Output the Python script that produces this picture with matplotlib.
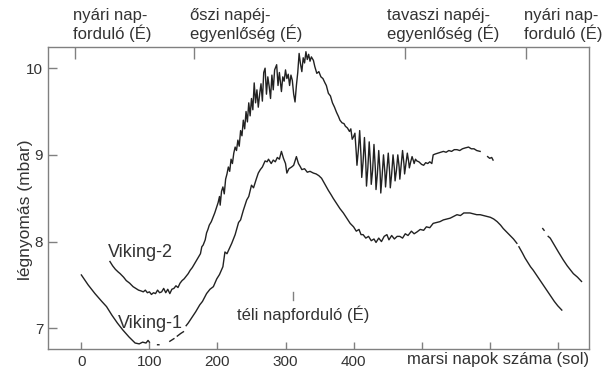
import numpy as np
import matplotlib.pyplot as plt

plt.rcParams['font.family'] = ['Liberation Sans', 'DejaVu Sans']
plt.rcParams['figure.dpi'] = 100

# ======== 数据========
# Viking-1
v1_sol = [0, 10, 20, 30, 37, 45, 53, 61, 70, 79, 85, 90, 95, 98, 100, np.nan,
          112, 114, np.nan,
          130, 136, np.nan, 141, 146, 150, np.nan, 154, 157, 162, 168, 174, 178, 184, 189,
          194, 199, 203, 208, 211, 214, 218, 221, 226, 231, 234, 238, 243, 246, 250,
          253, 257, 260, 263, 266, 270, 273, 275, 279, 282, 285, 288, 291, 294, 297,
          300, 302, 305, 309, 312, 316, 319, 322, 324, 328, 332, 336, 341, 345, 349,
          353, 358, 363, 367, 370, 375, 380, 385, 390, 395, 400, 404, 408, 411, 414,
          418, 422, 426, 430, 433, 437, 441, 445, 449, 452, 456, 460, 464, 468, 472,
          476, 480, 485, 489, 493, 498, 503, 507, 512, 517, 522, 527, 532, 537, 542,
          547, 552, 557, 562, 566, 571, 576, 581, 586, 591, 596, 601, 606, 611, 616,
          620, 625, 630, 635, 640, np.nan, 643, 648, 652, 656, 660, 664, 670, 676, 682,
          689, 695, 700, 706]
v1_p = [7.615, 7.50, 7.40, 7.31, 7.25, 7.15, 7.06, 6.98, 6.90, 6.83, 6.82, 6.84, 6.83, 6.86, 6.84, np.nan,
        6.81, 6.81, np.nan,
        6.85, 6.88, np.nan, 6.91, 6.94, 6.96, np.nan, 7.03, 7.06, 7.12, 7.19, 7.27, 7.31, 7.40, 7.45,
        7.48, 7.57, 7.62, 7.71, 7.88, 7.86, 7.93, 7.98, 8.08, 8.22, 8.25, 8.36, 8.48, 8.52, 8.65,
        8.62, 8.72, 8.79, 8.83, 8.86, 8.93, 8.92, 8.95, 8.90, 8.94, 8.92, 8.97, 8.95, 9.04, 8.96,
        8.90, 8.79, 8.84, 8.86, 8.88, 8.98, 8.90, 8.86, 8.83, 8.84, 8.80, 8.81, 8.79, 8.78, 8.76,
        8.73, 8.66, 8.59, 8.54, 8.50, 8.44, 8.38, 8.33, 8.27, 8.21, 8.17, 8.12, 8.14, 8.08, 8.08,
        8.04, 8.06, 8.01, 8.03, 7.99, 8.04, 8.00, 8.06, 8.08, 8.02, 8.07, 8.03, 8.06, 8.06, 8.04,
        8.09, 8.07, 8.12, 8.09, 8.11, 8.14, 8.13, 8.17, 8.16, 8.21, 8.22, 8.23, 8.25, 8.26, 8.27,
        8.29, 8.31, 8.30, 8.33, 8.33, 8.33, 8.32, 8.31, 8.31, 8.30, 8.29, 8.28, 8.26, 8.23, 8.19,
        8.15, 8.11, 8.07, 8.03, 7.98, np.nan, 7.94, 7.87, 7.81, 7.76, 7.71, 7.67, 7.60, 7.53, 7.46,
        7.38, 7.31, 7.26, 7.21]

# Viking-2
v2_sol = [42, 46, 50, 54, 57, 62, 66, 71, 76, 80, 84, 88, 91, 94, 97, 100, 103, 106, 109,
          112, 115, 118, 121, 124, 127, 130, 133, 136, 139, 142, 145, 148, 151, 154, 157,
          160, 163, 166, 169, 172, 175, 177, 179, 182, 184, 186, 188, 191, 194, 196, 199,
          201, 203, 204, 206, 208, 210, 212, 214, 216, 218, 220, 222, 224, 226, 228, 230,
          232, 234, 236, 238, 240, 242, 244, 246, 248, 250, 252, 254, 256, 258, 260, 262,
          264, 266, 268, 270, 272, 274, 276, 278, 280, 282, 284, 287, 289, 291, 294, 296,
          298, 300, 302, 304, 306, 308, 310, 312, 314, 316, 318, 320, 322, 324, 326, 328,
          330, 332, 334, 336, 338, 341, 343, 346, 349, 352, 355, 358, 360, 363, 366, 369,
          372, 375, 378, 380, 383, 386, 388, 391, 394, 396, 398, 400,
          402, 404, 405, 407, 409, 411, 412, 414, 416, 418, 419, 421, 423, 425, 426, 428,
          430, 432, 433, 435, 437, 439, 440, 442, 444, 446, 447, 449, 451, 453, 454, 456,
          458, 460, 461, 463, 465, 467, 468, 470, 472, 474, 475, 477, 479, 481, 482, 484,
          486, 488, 489, 491, 493, 496, 500,
          503, 506, 509, 512, 515, 517, 520, 524, 528, 532, 536, 540, 544, 548, 552, 556,
          560, 564, 569, 573, 577, 581, 586, np.nan, 597, 600, 603, 605, np.nan,
          678, 680, np.nan, 686, 689, 695, 701, 708, 714, 719, 723, 729, 735]
v2_p = [7.77, 7.72, 7.68, 7.65, 7.63, 7.59, 7.55, 7.52, 7.48, 7.46, 7.44, 7.43, 7.42, 7.44, 7.41, 7.42, 7.39, 7.41, 7.40,
        7.44, 7.41, 7.42, 7.46, 7.41, 7.45, 7.40, 7.45, 7.46, 7.49, 7.47, 7.52, 7.55, 7.57, 7.60, 7.63,
        7.67, 7.70, 7.74, 7.78, 7.82, 7.86, 7.94, 7.96, 8.02, 8.10, 8.14, 8.19, 8.23, 8.29, 8.33, 8.40,
        8.45, 8.52, 8.42, 8.58, 8.63, 8.55, 8.72, 8.78, 8.86, 8.81, 8.95, 8.90, 9.02, 9.09, 9.05, 9.17,
        9.10, 9.28, 9.22, 9.40, 9.30, 9.50, 9.38, 9.60, 9.45, 9.65, 9.52, 9.83, 9.60, 9.75, 9.55, 9.70,
        9.82, 9.62, 9.95, 10.00, 9.70, 9.90, 9.79, 9.65, 9.92, 9.75, 9.98, 10.04, 9.80, 9.95, 9.73, 9.90,
        9.85, 9.98, 9.88, 9.93, 9.80, 9.92, 9.86, 9.70, 9.61, 9.80, 9.95, 10.17, 10.05, 9.96, 10.12, 10.06,
        10.19, 10.10, 10.16, 10.08, 10.13, 10.09, 10.02, 9.94, 9.96, 9.90, 9.88, 9.83, 9.80, 9.71, 9.68, 9.60,
        9.55, 9.49, 9.44, 9.40, 9.37, 9.36, 9.33, 9.31, 9.27, 9.30, 9.18, 9.21,
        9.25, 9.02, 8.88, 9.05, 9.28, 8.98, 8.74, 8.92, 9.20, 8.90, 8.64, 8.85, 9.15, 8.88, 8.66, 8.82,
        9.12, 8.84, 8.60, 8.78, 9.05, 8.80, 8.56, 8.76, 9.00, 8.80, 8.63, 8.82, 9.02, 8.80, 8.62, 8.78,
        9.00, 8.84, 8.70, 8.82, 9.00, 8.86, 8.72, 8.88, 9.05, 8.90, 8.78, 8.90, 9.02, 8.92, 8.85, 8.92,
        8.98, 8.93, 8.90, 8.95, 8.93, 8.92, 8.89,
        8.88, 8.91, 8.90, 8.92, 8.90, 9.00, 9.01, 9.02, 9.03, 9.04, 9.03, 9.05, 9.04, 9.06, 9.06, 9.05,
        9.07, 9.08, 9.09, 9.07, 9.07, 9.05, 9.04, np.nan, 8.98, 8.96, 8.97, 8.94, np.nan,
        8.15, 8.13, np.nan, 8.06, 8.04, 7.96, 7.88, 7.79, 7.72, 7.67, 7.63, 7.59, 7.54]

# 刻度与季节标记
x_ticks = [0, 100, 200, 300, 400, 500, 600, 700]
x_tick_labels = ['0', '100', '200', '300', '400', '', '', '']
y_ticks = [7, 8, 9, 10]
season_sol = [-9, 166, 476, 654]
season_labels = ['nyári nap-\nforduló (É)', 'őszi napéj-\negyenlőség (É)',
                 'tavaszi napéj-\negyenlőség (É)', 'nyári nap-\nforduló (É)']
season_text_sol = [-12.5, 159.6, 449, 650.7]
winter_sol = 311

# ======== 绘图 ========
text_c = '#333333'
axis_c = '#808080'

fig = plt.figure(figsize=(6.1, 3.71))
ax = fig.add_axes([0.0787, 0.0593, 0.8869, 0.814])

ax.plot(v1_sol, v1_p, color='#222222', lw=1.0)
ax.plot(v2_sol, v2_p, color='#222222', lw=1.0)

ax.set_xlim(-49, 746)
ax.set_ylim(6.761, 10.244)

ax.set_xticks(x_ticks)
ax.set_xticklabels(x_tick_labels)
ax.set_yticks(y_ticks)
ax.tick_params(axis='x', direction='in', length=5, width=1, color=axis_c,
               labelsize=11, labelcolor=text_c, pad=4)
ax.tick_params(axis='y', direction='in', length=6.5, width=1, color=axis_c,
               labelsize=11, labelcolor=text_c, pad=3.5)
for s in ax.spines.values():
    s.set_color(axis_c)
    s.set_linewidth(1.0)

# 顶部季节刻度
top = ax.secondary_xaxis('top')
top.set_xticks(season_sol)
top.set_xticklabels([])
top.tick_params(direction='in', length=8.5, width=1, color=axis_c)
top.spines['top'].set_visible(False)

for xs, lab in zip(season_text_sol, season_labels):
    ax.text(xs, 1.073, lab, transform=ax.get_xaxis_transform(), ha='left', va='center',
            fontsize=12, color=text_c, linespacing=1.15)

# 冬至标记
ax.plot([winter_sol, winter_sol], [7.33, 7.42], color=axis_c, lw=1)
ax.text(229, 7.165, 'téli napforduló (É)', ha='left', va='center', fontsize=12, color=text_c)

ax.text(39, 7.87, 'Viking-2', ha='left', va='center', fontsize=13, color=text_c)
ax.text(54, 7.06, 'Viking-1', ha='left', va='center', fontsize=13, color=text_c)

ax.text(478.7, -0.036, 'marsi napok száma (sol)', transform=ax.get_xaxis_transform(),
        ha='left', va='center', fontsize=12, color=text_c)

ax.set_ylabel('légnyomás (mbar)', fontsize=12.5, color=text_c)
ax.yaxis.set_label_coords(-0.028, 0.46)

fig.savefig('out.png', dpi=100)
